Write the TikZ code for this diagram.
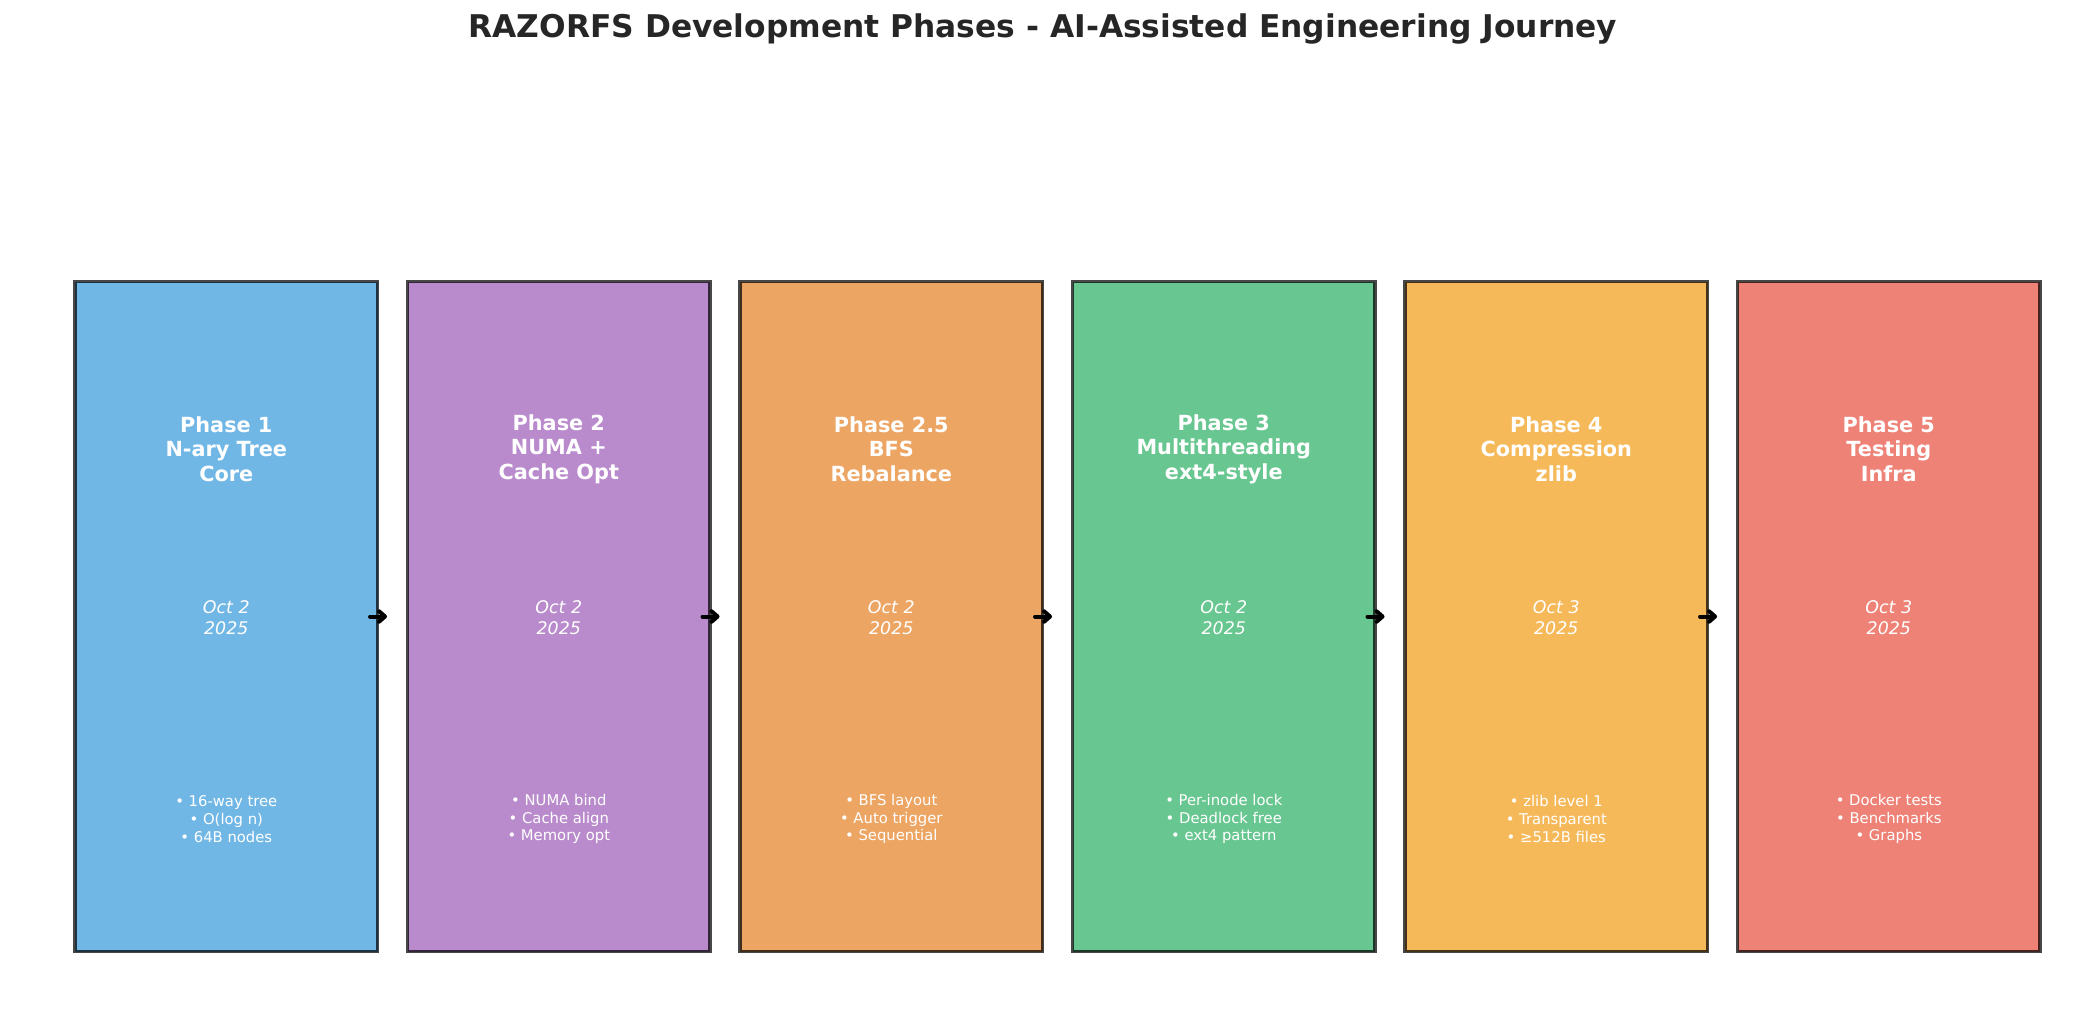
\documentclass[tikz,border=0pt]{standalone}
\usepackage{fontspec}
\setmainfont{DejaVu Sans}
\usetikzlibrary{arrows.meta}
\definecolor{cblue}{HTML}{71B7E6}
\definecolor{cpurple}{HTML}{B98BCC}
\definecolor{corange}{HTML}{EDA564}
\definecolor{cgreen}{HTML}{68C690}
\definecolor{cyellow}{HTML}{F6B95A}
\definecolor{cred}{HTML}{EE8277}
\definecolor{ctitle}{HTML}{262626}
\tikzset{
  phasebox/.style={draw=black, draw opacity=0.72, line width=3.3pt, rectangle,
    minimum width=302.5pt, minimum height=670pt, inner sep=0pt, outer sep=0pt},
  phasetitle/.style={text=white, align=center, inner sep=0pt,
    font=\fontsize{20.8}{24.5}\selectfont\bfseries},
  phasedate/.style={text=white, align=center, inner sep=0pt,
    font=\fontsize{17.4}{20.6}\selectfont\itshape},
  phasebul/.style={text=white, align=center, inner sep=0pt,
    font=\fontsize{14.8}{17.6}\selectfont},
  flowarrow/.style={black, line width=4pt, line cap=round, line join=round,
    -{Straight Barb[length=6pt,width=10.5pt,line cap=round,line join=round]},
    shorten <=-7.5pt, shorten >=20.5pt}
}
\begin{document}
\begin{tikzpicture}[x=1pt,y=-1pt]
\useasboundingbox (0,0) rectangle (2085,1034);
\node[text=ctitle, font=\fontsize{31.3}{36}\selectfont\bfseries, inner sep=0pt] (title) at (1043,29) {RAZORFS Development Phases - AI-Assisted Engineering Journey};

\foreach \i/\col/\nm/\ttl/\dt/\bul in {
  0/cblue/p1/{Phase 1\\N-ary Tree\\Core}/{Oct 2\\2025}/{• 16-way tree\\• O(log n)\\• 64B nodes},
  1/cpurple/p2/{Phase 2\\NUMA +\\Cache Opt}/{Oct 2\\2025}/{• NUMA bind\\• Cache align\\• Memory opt},
  2/corange/p3/{Phase 2.5\\BFS\\Rebalance}/{Oct 2\\2025}/{• BFS layout\\• Auto trigger\\• Sequential},
  3/cgreen/p4/{Phase 3\\Multithreading\\ext4-style}/{Oct 2\\2025}/{• Per-inode lock\\• Deadlock free\\• ext4 pattern},
  4/cyellow/p5/{Phase 4\\Compression\\zlib}/{Oct 3\\2025}/{• zlib level 1\\• Transparent\\• ≥512B files},
  5/cred/p6/{Phase 5\\Testing\\Infra}/{Oct 3\\2025}/{• Docker tests\\• Benchmarks\\• Graphs}} {
  \pgfmathsetmacro{\cx}{226.3+332.5*\i}
  \node[phasebox, fill=\col] (\nm) at (\cx,616.5) {};
  \node[phasetitle] (\nm t) at (\cx,449) {\ttl};
  \node[phasedate] (\nm d) at (\cx,617.5) {\dt};
  \node[phasebul] (\nm b) at (\cx,819) {\bul};
}

\draw[flowarrow] (p1.east) -- (p2.west);
\draw[flowarrow] (p2.east) -- (p3.west);
\draw[flowarrow] (p3.east) -- (p4.west);
\draw[flowarrow] (p4.east) -- (p5.west);
\draw[flowarrow] (p5.east) -- (p6.west);
\end{tikzpicture}
\end{document}
